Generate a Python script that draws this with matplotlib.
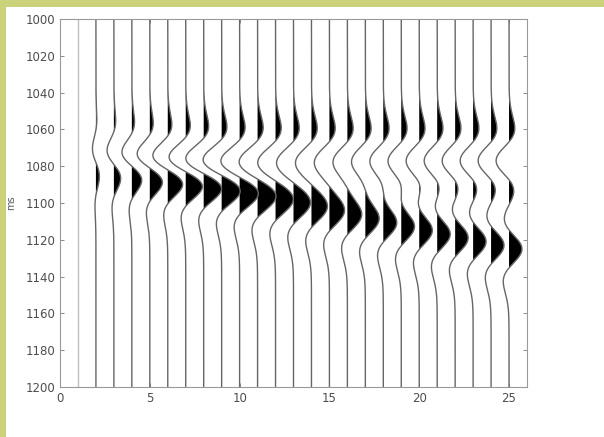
import numpy as np
import matplotlib
matplotlib.use("Agg")
import matplotlib.pyplot as plt
from matplotlib.patches import Rectangle

# wedge model: top reflector (negative) at a fixed time,
# base reflector (positive) getting deeper trace by trace
trace_x = [1, 2, 3, 4, 5, 6, 7, 8, 9, 10, 11, 12, 13,
           14, 15, 16, 17, 18, 19, 20, 21, 22, 23, 24, 25]
top_time = 1077
base_times = [1077, 1079, 1081, 1083, 1085, 1087, 1089, 1091, 1093, 1095, 1097, 1099, 1101,
              1103, 1105, 1107, 1109, 1111, 1113, 1115, 1117, 1119, 1121, 1123, 1125]
wavelet_freq = 22      # Hz
trace_gain = 0.72      # peak of a single reflection, in trace units

x_ticks = [0, 5, 10, 15, 20, 25]
y_ticks = [1000, 1020, 1040, 1060, 1080, 1100, 1120, 1140, 1160, 1180, 1200]


def ricker(t_ms, f):
    a = (np.pi * f * t_ms / 1000.0) ** 2
    return (1 - 2 * a) * np.exp(-a)


fig = plt.figure(figsize=(6.04, 4.37), dpi=100, facecolor="#ccd27a")
# white panel (yellow strip only on top and left)
fig.patches.append(Rectangle((6 / 604, 0), 1, (437 - 7) / 437, transform=fig.transFigure,
                             facecolor="white", edgecolor="none", zorder=-10))

ax = fig.add_axes([60 / 604, 1 - 387 / 437, (527 - 60) / 604, (387 - 19) / 437])
ax.set_zorder(1)

t = np.arange(1000, 1200.5, 0.5)
for n, tb in zip(trace_x, base_times):
    s = trace_gain * (-ricker(t - top_time, wavelet_freq) + ricker(t - tb, wavelet_freq))
    lc = "0.75" if n == 1 else "0.4"
    ax.plot(n + s, t, color=lc, lw=1.0)
    ax.fill_betweenx(t, n, n + s, where=s > 0, color="black", lw=0, interpolate=True)

ax.set_xlim(0, 26)
ax.set_ylim(1200, 1000)
ax.set_xticks(x_ticks)
ax.set_yticks(y_ticks)
ax.tick_params(direction="in", top=True, right=True, length=3, width=0.7,
               colors="0.55", labelcolor="0.3", labelsize=8.5)
for sp in ax.spines.values():
    sp.set_color("0.6")
    sp.set_linewidth(0.8)

ax.set_ylabel("ms", fontsize=7, color="0.35")
ax.yaxis.set_label_coords(-0.095, 0.5)

fig.savefig("out.png", dpi=100, facecolor=fig.get_facecolor())
